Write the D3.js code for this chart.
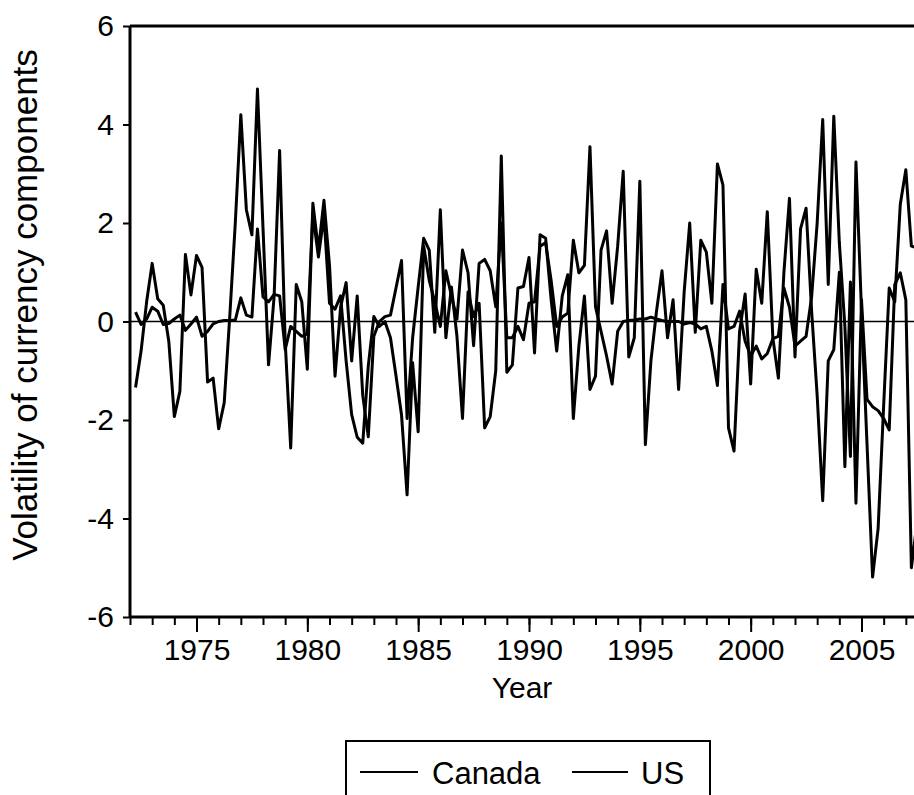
<!DOCTYPE html>
<html>
<head>
<meta charset="utf-8">
<script src="https://cdn.jsdelivr.net/npm/d3@7"></script>
<style>
  body { margin: 0; background: #fff; }
  svg { display: block; }
  text { font-family: "Liberation Sans", Arial, sans-serif; fill: #000; }
</style>
</head>
<body>
<svg id="chart" width="914" height="795"></svg>
<script>
// quarterly observations, first one is 1972 Q2
const startYear = 1972.25;

const canada = [
  -1.34, -0.60, 0.40, 1.18, 0.46, 0.33, -0.40, -1.93, -1.42, 1.36,
  0.54, 1.34, 1.10, -1.23, -1.15, -2.18, -1.65, 0.10, 2.00, 4.20,
  2.27, 1.76, 4.72, 1.90, -0.88, 0.50, 3.47, -0.40, -2.57, 0.75,
  0.40, -0.97, 2.40, 1.45, 2.46, 1.14, -1.11, 0.29, 0.79, -0.80,
  0.52, -1.50, -2.34, -0.30, 0.00, 0.10, 0.13, 0.68, 1.24, -1.97,
  -0.33, 0.70, 1.69, 1.45, -0.22, 2.27, -0.33, 0.70, -0.30, -1.97,
  0.60, 0.10, 0.37, -2.16, -1.93, -1.00, 3.36, -1.03, -0.88, 0.68,
  0.71, 1.30, -0.64, 1.76, 1.69, 0.44, -0.60, 0.52, 0.95, -1.97,
  -0.50, 0.52, -1.38, -1.11, 1.45, 1.84, 0.37, 1.53, 3.05, -0.72,
  -0.33, 2.85, -2.50, -0.80, 0.20, 1.03, -0.33, 0.44, -1.38, 0.60,
  2.00, -0.22, 1.65, 1.41, 0.37, 3.20, 2.77, -2.16, -2.63, -0.20,
  0.56, -1.27, 1.06, 0.37, 2.23, -0.33, -1.15, 1.00, 2.50, -0.72,
  1.88, 2.30, 0.21, -1.50, -3.64, -0.80, -0.57, 1.00, -2.95, 0.80,
  -3.69, 0.44, -1.58, -1.73, -1.81, -1.97, -2.20, 0.75, 0.99, 0.44,
  -5.00, -4.10
];

const us = [
  0.19, -0.06, 0.05, 0.29, 0.21, -0.06, -0.04, 0.05, 0.13, -0.18,
  -0.05, 0.09, -0.30, -0.20, -0.05, 0.00, 0.02, 0.02, 0.03, 0.48,
  0.13, 0.09, 1.88, 0.50, 0.40, 0.55, 0.52, -0.57, -0.10, -0.20,
  -0.30, -0.25, 2.19, 1.31, 2.15, 0.37, 0.25, 0.52, -0.80, -1.89,
  -2.35, -2.47, -0.90, 0.10, -0.10, 0.00, -0.33, -1.10, -1.90, -3.52,
  -0.84, -2.24, 1.53, 0.83, 0.40, -0.10, 1.03, 0.52, 0.05, 1.45,
  0.99, -0.49, 1.18, 1.26, 1.03, 0.30, 2.00, -0.33, -0.33, -0.10,
  -0.37, 0.37, 0.40, 1.53, 1.60, 0.83, -0.10, 0.09, 0.17, 1.65,
  0.99, 1.14, 3.55, 0.30, -0.20, -0.70, -1.27, -0.20, 0.00, 0.02,
  0.03, 0.05, 0.05, 0.09, 0.05, 0.02, 0.00, 0.00, 0.00, -0.05,
  -0.02, -0.05, -0.15, -0.10, -0.60, -1.30, 0.75, -0.15, -0.10, 0.21,
  -0.40, -0.70, -0.50, -0.76, -0.65, -0.35, -0.30, 0.68, 0.29, -0.50,
  -0.40, -0.30, 0.50, 2.00, 4.10, 0.75, 4.17, 1.60, -0.10, -2.74,
  3.24, 0.21, -2.50, -5.19, -4.20, -1.70, 0.68, 0.40, 2.38, 3.08,
  1.53, 1.50
];

const yTicks = [-6, -4, -2, 0, 2, 4, 6];
const xMajorTicks = [1975, 1980, 1985, 1990, 1995, 2000, 2005];
const xMinorTicks = d3.range(1972, 2009);
const legendNames = ["Canada", "US"];

const svg = d3.select("#chart");

const x = d3.scaleLinear().domain([1972, 2008]).range([130, 928]);
const y = d3.scaleLinear().domain([-6, 6]).range([617, 26]);

const toPoints = vals => vals.map((v, i) => ({ t: startYear + i * 0.25, v }));

// zero reference line
svg.append("line")
  .attr("x1", x(1972)).attr("x2", 914)
  .attr("y1", y(0)).attr("y2", y(0))
  .attr("stroke", "#000").attr("stroke-width", 1.6);

const line = d3.line().x(d => x(d.t)).y(d => y(d.v));

[canada, us].forEach(vals => {
  svg.append("path")
    .datum(toPoints(vals))
    .attr("d", line)
    .attr("fill", "none")
    .attr("stroke", "#000")
    .attr("stroke-width", 3)
    .attr("stroke-linejoin", "round");
});

// frame: top border
svg.append("line")
  .attr("x1", x(1972)).attr("x2", 914)
  .attr("y1", y(6)).attr("y2", y(6))
  .attr("stroke", "#000").attr("stroke-width", 3);

// left axis (plain hyphen minus like the original)
const yAxis = svg.append("g")
  .attr("transform", `translate(${x(1972)},0)`)
  .call(d3.axisLeft(y).tickValues(yTicks).tickSize(7).tickPadding(9).tickFormat(d => String(d)));
yAxis.select(".domain").attr("stroke-width", 3).attr("d", `M0,${y(6)}V${y(-6)}`);
yAxis.selectAll(".tick line").attr("stroke-width", 2);
yAxis.selectAll(".tick text")
  .style("font-size", "30px")
  .style("font-family", "'Liberation Sans', Arial, sans-serif")
  .attr("fill", "#000");

// bottom axis: yearly minor ticks, five-year major ticks
const xMinor = svg.append("g")
  .attr("transform", `translate(0,${y(-6)})`)
  .call(d3.axisBottom(x).tickValues(xMinorTicks).tickSize(8).tickFormat(""));
xMinor.select(".domain").attr("stroke-width", 3).attr("d", `M${x(1972)},0H914`);
xMinor.selectAll(".tick line").attr("stroke-width", 2);

const xMajor = svg.append("g")
  .attr("transform", `translate(0,${y(-6)})`)
  .call(d3.axisBottom(x).tickValues(xMajorTicks).tickSize(15).tickPadding(7).tickFormat(d3.format("d")));
xMajor.select(".domain").remove();
xMajor.selectAll(".tick line").attr("stroke-width", 2);
xMajor.selectAll(".tick text")
  .style("font-size", "30px")
  .style("font-family", "'Liberation Sans', Arial, sans-serif")
  .attr("fill", "#000");

// axis titles
svg.append("text")
  .attr("transform", "translate(37,305) rotate(-90)")
  .attr("text-anchor", "middle")
  .style("font-size", "35px")
  .text("Volatility of currency components");

svg.append("text")
  .attr("x", 522).attr("y", 698)
  .attr("text-anchor", "middle")
  .style("font-size", "30px")
  .text("Year");

// legend
const legend = svg.append("g");
legend.append("path")
  .attr("d", "M346,800V741H710V800")
  .attr("fill", "none").attr("stroke", "#000").attr("stroke-width", 2);

const legendItems = [
  { name: legendNames[0], x1: 360, x2: 418, tx: 432 },
  { name: legendNames[1], x1: 572, x2: 628, tx: 641 }
];
legendItems.forEach(d => {
  legend.append("line")
    .attr("x1", d.x1).attr("x2", d.x2)
    .attr("y1", 772).attr("y2", 772)
    .attr("stroke", "#000").attr("stroke-width", 1.8);
  legend.append("text")
    .attr("x", d.tx).attr("y", 784)
    .style("font-size", "31px")
    .text(d.name);
});
</script>
</body>
</html>
